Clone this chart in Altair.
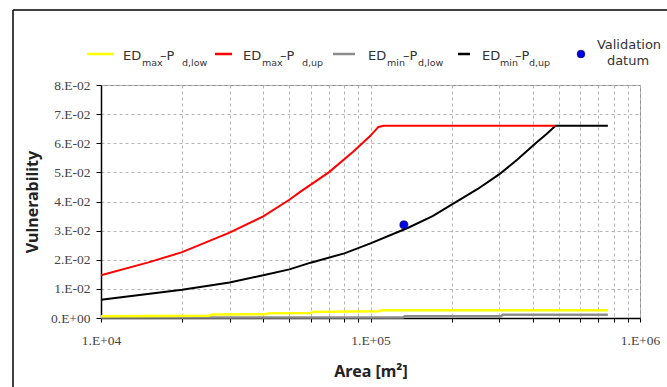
import altair as alt
import pandas as pd

# ED_max - P_d,up
red_area = [1e4, 1.5e4, 2e4, 3e4, 4e4, 5e4, 5.5e4, 7e4, 8.6e4, 9.9e4, 1.07e5, 1.12e5, 4.86e5]
red_vuln = [0.0147, 0.0191, 0.0226, 0.0293, 0.0349, 0.0406, 0.0434, 0.0500, 0.0570, 0.0622, 0.0656, 0.0660, 0.0660]

# ED_min - P_d,up
black_area = [1e4, 2e4, 3e4, 4e4, 5e4, 6e4, 8e4, 1e5, 1.38e5, 1.7e5, 2e5, 2.5e5, 3e5, 3.5e5, 4.08e5, 4.5e5, 4.86e5, 7.6e5]
black_vuln = [0.0063, 0.0097, 0.0122, 0.0147, 0.0167, 0.0190, 0.0222, 0.0256, 0.0310, 0.0350, 0.0389, 0.0443, 0.0493, 0.0543, 0.0598, 0.0632, 0.0660, 0.0660]

# ED_max - P_d,low
yellow_area = [1e4, 2.5e4, 2.6e4, 4.1e4, 4.2e4, 6e4, 6.1e4, 8.5e4, 1.08e5, 1.1e5, 7.6e5]
yellow_vuln = [0.0006, 0.0008, 0.0012, 0.0013, 0.0016, 0.0017, 0.0021, 0.0022, 0.0023, 0.0027, 0.0027]

# ED_min - P_d,low
gray_area = [1e4, 1.32e5, 1.34e5, 3.05e5, 3.1e5, 7.6e5]
gray_vuln = [0.0002, 0.0002, 0.0006, 0.0006, 0.0011, 0.0011]

# validation datum
datum_area = [1.33e5]
datum_vuln = [0.032]

x_tick_values = [1e4, 2e4, 3e4, 4e4, 5e4, 6e4, 7e4, 8e4, 9e4,
                 1e5, 2e5, 3e5, 4e5, 5e5, 6e5, 7e5, 8e5, 9e5, 1e6]
y_tick_values = [0.0, 0.01, 0.02, 0.03, 0.04, 0.05, 0.06, 0.07, 0.08]

W, H = 539, 233
PAD_L, PAD_T = 101, 85

x_enc = alt.X(
    "area:Q",
    scale=alt.Scale(type="log", domain=[1e4, 1e6]),
    axis=alt.Axis(
        title="Area [m²]",
        values=x_tick_values,
        labelExpr="abs(log(datum.value)/LN10 - round(log(datum.value)/LN10)) < 0.001 ? '1.E+0' + round(log(datum.value)/LN10) : ''",
        labelOverlap=False,
        labelFlush=False,
        tickSize=4,
        labelPadding=11,
        titlePadding=17,
        gridDash=[3, 3],
    ),
)
y_enc = alt.Y(
    "vuln:Q",
    scale=alt.Scale(domain=[0, 0.08], nice=False),
    axis=alt.Axis(
        title="Vulnerability",
        values=y_tick_values,
        labelExpr="datum.value == 0 ? '0.E+00' : round(datum.value*100) + '.E-02'",
        tickSize=5,
        labelPadding=6,
        titlePadding=10,
        gridDash=[3, 3],
    ),
)


def curve(area, vuln, color, width):
    df = pd.DataFrame({"area": area, "vuln": vuln, "i": range(len(area))})
    return alt.Chart(df).mark_line(color=color, strokeWidth=width).encode(
        x=x_enc, y=y_enc, order="i:Q"
    )


gray = curve(gray_area, gray_vuln, "#8c8c8c", 2.5)
yellow = curve(yellow_area, yellow_vuln, "#ffff00", 2.5)
black = curve(black_area, black_vuln, "#000000", 2)
red = curve(red_area, red_vuln, "#ff0000", 2)

datum = alt.Chart(pd.DataFrame({"area": datum_area, "vuln": datum_vuln})).mark_point(
    filled=True, shape="circle", size=65, color="#0000ee", stroke="#000033", strokeWidth=0.6, opacity=1
).encode(x=x_enc, y=y_enc)

# outer frame (top and left edges)
frame_left = alt.Chart(pd.DataFrame({"a": [0]})).mark_rule(color="#000", strokeWidth=1.5).encode(
    x=alt.value(13 - PAD_L), y=alt.value(10 - PAD_T), y2=alt.value(400)
)
frame_top = alt.Chart(pd.DataFrame({"a": [0]})).mark_rule(color="#000", strokeWidth=1.5).encode(
    x=alt.value(13 - PAD_L), x2=alt.value(700), y=alt.value(10 - PAD_T)
)

# legend: line swatches, marker and labels with subscripts
LEG_Y = 54
FONT = "DejaVu Sans"
legend_layers = []
swatches = [(87, 114, "#ffff00"), (215, 232, "#ff0000"), (333, 355, "#8c8c8c"), (458, 470, "#000000")]
for x0, x1, c in swatches:
    legend_layers.append(
        alt.Chart(pd.DataFrame({"a": [0]})).mark_rule(color=c, strokeWidth=2.5).encode(
            x=alt.value(x0 - PAD_L), x2=alt.value(x1 - PAD_L), y=alt.value(LEG_Y - PAD_T)
        )
    )

labels = [
    ("ED", "max", "d,low", 123, 142, 160, 182),
    ("ED", "max", "d,up", 243, 262, 280, 302),
    ("ED", "min", "d,low", 368, 387, 403, 418),
    ("ED", "min", "d,up", 482, 500, 515, 529),
]
pieces = []
for main, sub1, sub2, xa, xb, xc, xd in labels:
    pieces += [(main, xa, 60, 13), (sub1, xb, 66, 9.5), ("–P", xc, 60, 13), (sub2, xd, 66, 9.5)]
for txt, px, py, fs in pieces:
    legend_layers.append(
        alt.Chart(pd.DataFrame({"t": [txt]})).mark_text(
            align="left", baseline="alphabetic", font=FONT, fontSize=fs, color="#333"
        ).encode(x=alt.value(px - PAD_L), y=alt.value(py - PAD_T), text="t:N")
    )
for txt, px, py in [("Validation", 629, 49), ("datum", 628, 65)]:
    legend_layers.append(
        alt.Chart(pd.DataFrame({"t": [txt]})).mark_text(
            align="center", baseline="alphabetic", font=FONT, fontSize=13, color="#333"
        ).encode(x=alt.value(px - PAD_L), y=alt.value(py - PAD_T), text="t:N")
    )
legend_layers.append(
    alt.Chart(pd.DataFrame({"a": [0]})).mark_point(
        filled=True, shape="circle", size=60, color="#0000ee", stroke="#000033", strokeWidth=0.6, opacity=1
    ).encode(x=alt.value(581 - PAD_L), y=alt.value(LEG_Y - PAD_T))
)

chart = alt.layer(gray, yellow, black, red, datum, frame_left, frame_top, *legend_layers).properties(
    width=W,
    height=H,
    autosize=alt.AutoSizeParams(type="none"),
    padding={"left": PAD_L, "top": PAD_T, "right": 667 - PAD_L - W, "bottom": 387 - PAD_T - H},
    background="#ffffff",
).configure_view(
    stroke="#8c8c8c", strokeWidth=1
).configure_axis(
    labelFont="Liberation Serif",
    labelFontSize=13.5,
    labelColor="#444",
    titleFont="Noto Sans",
    titleFontSize=16,
    titleFontWeight="bold",
    titleColor="#222",
    domainColor="#000",
    domainWidth=1.5,
    tickColor="#000",
    tickWidth=1,
    gridColor="#b4b4b4",
    gridWidth=1,
)

chart.save("out.html", embed_options={"renderer": "svg", "actions": False})
